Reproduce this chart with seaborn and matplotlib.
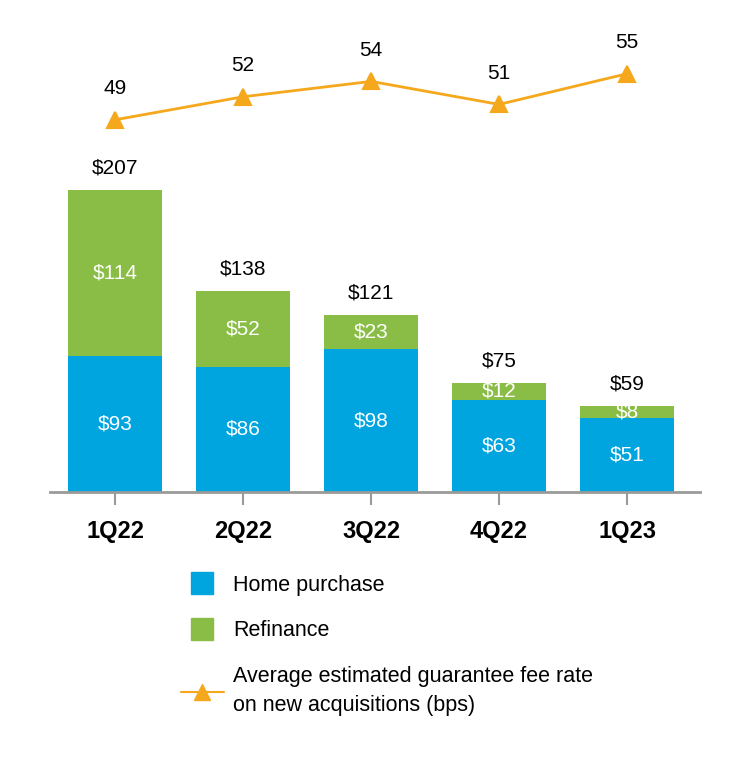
import numpy as np
import pandas as pd
import matplotlib
matplotlib.use('Agg')
import matplotlib.pyplot as plt
from matplotlib.lines import Line2D
import seaborn as sns

# --- DADOS ---
quarters = ['1Q22', '2Q22', '3Q22', '4Q22', '1Q23']
home_purchase = [93, 86, 98, 63, 51]
refinance = [114, 52, 23, 12, 8]
totals = [207, 138, 121, 75, 59]
fee_bps = [49, 52, 54, 51, 55]

BLUE = '#00A5E0'
GREEN = '#8ABD45'
ORANGE = '#F5A81C'

sns.set_theme(style='white')
plt.rcParams['font.family'] = ['Liberation Sans', 'DejaVu Sans']
plt.rcParams['text.color'] = 'black'
plt.rcParams['xtick.color'] = 'black'

df = pd.DataFrame({'quarter': quarters, 'home': home_purchase,
                   'refi': refinance, 'total': totals, 'fee': fee_bps})

W, H = 740, 772
fig = plt.figure(figsize=(W / 100, H / 100), dpi=100)
ax = fig.add_axes([50 / W, (H - 492) / H, 650 / W, 472 / H])

# barras empilhadas: total (verde) por baixo, compra (azul) por cima
sns.barplot(data=df, x='quarter', y='total', color=GREEN, width=0.735,
            saturation=1, linewidth=0, ax=ax)
sns.barplot(data=df, x='quarter', y='home', color=BLUE, width=0.735,
            saturation=1, linewidth=0, ax=ax)
ax.set_ylim(0, 323.5)
ax.set_xlim(-0.51, 4.57)

FS = 15
for i in range(len(quarters)):
    ax.annotate(f'${totals[i]}', (i, totals[i]), xytext=(0, 22),
                textcoords='offset pixels', ha='center', va='center',
                fontsize=FS, color='black')
    ax.text(i, home_purchase[i] / 2, f'${home_purchase[i]}', ha='center',
            va='center', fontsize=FS, color='white')
    ax.text(i, home_purchase[i] + refinance[i] / 2, f'${refinance[i]}',
            ha='center', va='center', fontsize=FS, color='white')

for s in ['top', 'right', 'left']:
    ax.spines[s].set_visible(False)
ax.spines['bottom'].set_color('#9a9a9a')
ax.spines['bottom'].set_linewidth(2)
ax.set_yticks([])
ax.set_xlabel('')
ax.set_ylabel('')
ax.tick_params(axis='x', bottom=True, length=9, width=1.5, color='#9a9a9a',
               labelcolor='black', pad=11, labelsize=17)
for t in ax.get_xticklabels():
    t.set_fontweight('bold')

# linha da taxa de garantia
ax2 = ax.twinx()
sns.pointplot(data=df, x='quarter', y='fee', color=ORANGE, markers='^',
              markersize=11, linewidth=2, ax=ax2)
ax2.set_ylim(0.5, 62.0)
ax2.set_xlim(-0.51, 4.57)
ax2.axis('off')
for i in range(len(quarters)):
    ax2.annotate(str(fee_bps[i]), (i, fee_bps[i]), xytext=(0, 31),
                 textcoords='offset pixels', ha='center', va='center',
                 fontsize=FS, color='black')

# legenda
handles = [
    Line2D([], [], marker='s', linestyle='none', markersize=16,
           markerfacecolor=BLUE, markeredgecolor=BLUE),
    Line2D([], [], marker='s', linestyle='none', markersize=16,
           markerfacecolor=GREEN, markeredgecolor=GREEN),
    Line2D([], [], marker='^', color=ORANGE, linewidth=1.5, markersize=11),
]
labels = ['Home purchase', 'Refinance',
          'Average estimated guarantee fee rate\non new acquisitions (bps)']
leg = fig.legend(handles, labels, loc='upper left',
                 bbox_to_anchor=(172 / W, (H - 566) / H), frameon=False,
                 fontsize=15.5, handlelength=2.0, handletextpad=0.45,
                 labelspacing=1.15, borderaxespad=0)
for t in leg.get_texts():
    t.set_linespacing(1.5)
    t.set_color('black')

fig.savefig('out.png', dpi=100)
